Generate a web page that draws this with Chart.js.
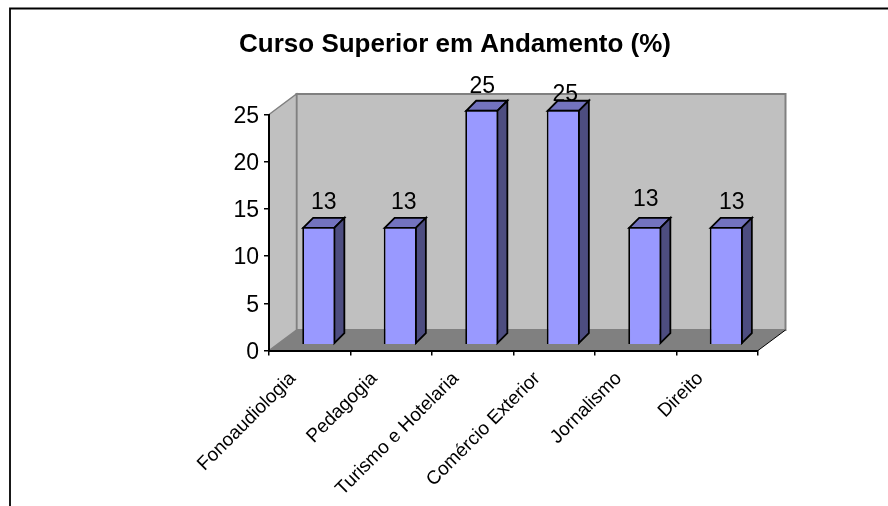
<!DOCTYPE html>
<html>
<head>
<meta charset="utf-8">
<style>html,body{margin:0;padding:0;background:#fff}canvas{display:block}</style>
<script src="https://cdn.jsdelivr.net/npm/chart.js@4"></script>
</head>
<body>
<canvas id="c" width="888" height="506"></canvas>
<script>
const categories = ["Fonoaudiologia","Pedagogia","Turismo e Hotelaria","Comércio Exterior","Jornalismo","Direito"];
const values = [12.5,12.5,25,25,12.5,12.5];
const yTicks = [0,5,10,15,20,25];
const titleText = "Curso Superior em Andamento (%)";

const FONT = '"Liberation Sans", Arial, sans-serif';
const WALL = {dx:27.5, dy:-20.5};
const BAR = {shiftX:9, shiftY:-6.5, dx:10, dy:-10};
const labelNudgeX = [5,3.5,0.5,2,1,5.5];
const labelNudgeY = [-0.5,-0.5,0,8,-4,-1];

function poly(ctx, pts, fill, stroke, lw){
  ctx.beginPath();
  pts.forEach((p,i)=> i?ctx.lineTo(p[0],p[1]):ctx.moveTo(p[0],p[1]));
  ctx.closePath();
  if(fill){ctx.fillStyle=fill;ctx.fill();}
  if(stroke){ctx.strokeStyle=stroke;ctx.lineWidth=lw;ctx.lineJoin='miter';ctx.stroke();}
}

const scene3d = {
  id:'scene3d',
  beforeDraw(chart){
    const {ctx,chartArea:a} = chart;
    const {dx,dy} = WALL;
    ctx.save();
    ctx.strokeStyle='#000';ctx.lineWidth=1.8;
    ctx.beginPath();ctx.moveTo(10,506);ctx.lineTo(10,8.5);ctx.lineTo(888,8.5);ctx.stroke();
    poly(ctx,[[a.left+dx,a.top+dy],[a.right+dx,a.top+dy],[a.right+dx,a.bottom+dy],[a.left+dx,a.bottom+dy]],'#C0C0C0','#808080',2);
    poly(ctx,[[a.left,a.top],[a.left+dx,a.top+dy],[a.left+dx,a.bottom+dy],[a.left,a.bottom]],'#C0C0C0','#808080',1.5);
    poly(ctx,[[a.left,a.bottom],[a.left+dx,a.bottom+dy],[a.right+dx,a.bottom+dy],[a.right,a.bottom]],'#808080');
    ctx.strokeStyle='#000';ctx.lineWidth=1;
    ctx.beginPath();ctx.moveTo(a.right,a.bottom);ctx.lineTo(a.right+dx,a.bottom+dy);ctx.stroke();
    ctx.restore();
  },
  beforeDatasetsDraw(chart){
    const ctx = chart.ctx;
    ctx.save();
    ctx.translate(BAR.shiftX,BAR.shiftY);
    chart.getDatasetMeta(0).data.forEach(el=>{
      const {x,y,base,width} = el.getProps(['x','y','base','width'],true);
      const l=x-width/2+0.9, r=x+width/2-0.9, t=y+0.9, b=base-0.9;
      poly(ctx,[[l,t],[l+BAR.dx,t+BAR.dy],[r+BAR.dx,t+BAR.dy],[r,t]],'#7373BF','#000',1.8);
      poly(ctx,[[r,t],[r+BAR.dx,t+BAR.dy],[r+BAR.dx,b+BAR.dy],[r,b]],'#4D4D80','#000',1.8);
    });
  },
  afterDatasetsDraw(chart){
    const ctx = chart.ctx;
    ctx.restore();
    ctx.save();
    ctx.fillStyle='#000';
    ctx.font='23px '+FONT;
    ctx.textAlign='center';
    ctx.textBaseline='alphabetic';
    chart.getDatasetMeta(0).data.forEach((el,i)=>{
      const {x,y} = el.getProps(['x','y'],true);
      ctx.fillText(String(Math.round(values[i])), x+BAR.shiftX+labelNudgeX[i], y+BAR.shiftY-17+labelNudgeY[i]);
    });
    ctx.restore();
  }
};

new Chart(document.getElementById('c'),{
  type:'bar',
  data:{labels:categories,datasets:[{
    data:values,yAxisID:'yBars',
    backgroundColor:'#9999FF',borderColor:'#000',borderWidth:1.8,
    barPercentage:0.405,categoryPercentage:1,clip:false
  }]},
  plugins:[scene3d],
  options:{
    responsive:false,animation:false,
    layout:{padding:{left:152,right:130,top:0,bottom:0}},
    plugins:{
      legend:{display:false},tooltip:{enabled:false},
      title:{display:true,text:titleText,color:'#000',
        font:{family:FONT,size:26,weight:'bold'},
        padding:{top:29,bottom:54.3}}
    },
    scales:{
      x:{
        offset:true,
        grid:{display:true,offset:true,drawOnChartArea:false,drawTicks:true,tickLength:5,color:'#000',lineWidth:1.5},
        border:{display:true,color:'#000',width:2},
        ticks:{maxRotation:45,minRotation:45,autoSkip:false,color:'#000',padding:12,labelOffset:-17,
          font:{family:FONT,size:19}},
        afterFit(s){s.height=155.5;s.paddingLeft=0;s.paddingRight=0;}
      },
      y:{
        min:0,max:25,
        afterBuildTicks(s){s.ticks=yTicks.map(v=>({value:v}));},
        grid:{display:true,drawOnChartArea:false,drawTicks:true,tickLength:5,color:'#000',lineWidth:1.5},
        border:{display:true,color:'#000',width:2},
        ticks:{color:'#000',padding:5,labelOffset:2,font:{family:FONT,size:23}},
        afterFit(s){s.width=117;s.paddingTop=0;s.paddingBottom=0;}
      },
      yBars:{display:false,min:0,max:25.2}
    }
  }
});
</script>
</body>
</html>
